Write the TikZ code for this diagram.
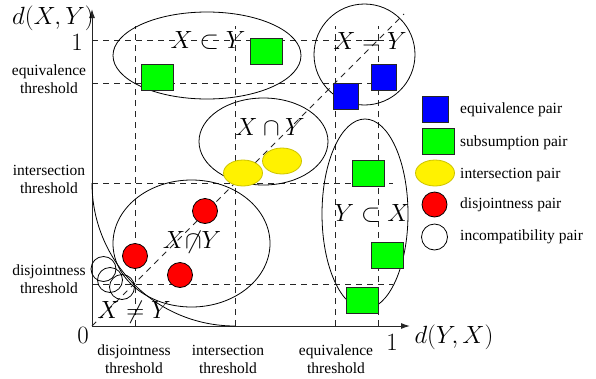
\documentclass[tikz,border=0pt]{standalone}
\usepackage[no-math]{fontspec}
\setmainfont{Liberation Serif}
\usetikzlibrary{shapes.geometric,arrows.meta}
\definecolor{yellowborder}{RGB}{205,195,0}
\begin{document}
\begin{tikzpicture}[x=1pt,y=-1pt,
  gridline/.style={dash pattern=on 6pt off 5pt, line width=0.8pt, black!85},
  region/.style={line width=0.8pt, black},
  axisline/.style={line width=1pt, black!85, -{Latex[length=9pt,width=6pt]}},
  lbl/.style={font=\fontsize{15.5}{18}\selectfont, align=center, inner sep=0},
  mlbl/.style={font=\fontsize{24.88}{28}\selectfont, inner sep=0},
  eqbox/.style={draw=black!85, fill=blue, minimum width=25pt, minimum height=26pt, inner sep=0, line width=0.8pt},
  subbox/.style={draw=black!85, fill=green, minimum width=32pt, minimum height=26pt, inner sep=0, line width=0.8pt},
  intell/.style={ellipse, draw=yellowborder, fill=yellow, minimum width=39pt, minimum height=26pt, inner sep=0, line width=0.8pt},
  disdot/.style={circle, draw=black, fill=red, minimum size=25pt, inner sep=0, line width=0.8pt},
  incdot/.style={circle, draw=black, minimum size=25pt, inner sep=0, line width=0.8pt},
]
\useasboundingbox (0,0) rectangle (596,378);

% grid
\foreach \x in {135,235,335,378} \draw[gridline] (\x,326) -- (\x,26);
\foreach \y in {284,183,83,40} \draw[gridline] (92,\y) -- (393,\y);
\coordinate (O) at (92,326);
\coordinate (D) at (404,14);
\draw[gridline] (O) -- (D);

% axes
\coordinate (ytop) at (92,9);
\coordinate (xend) at (410,326);
\draw[axisline] (O) -- (ytop);
\draw[axisline] (O) -- (xend);

% regions
\draw[region] (207,55.5) ellipse [x radius=94, y radius=43.5];
\draw[region] (263.5,141.5) ellipse [x radius=64.5, y radius=43.5];
\draw[region] (364.5,54.5) circle [radius=50.5];
\draw[region] (365,214) ellipse [x radius=43, y radius=95];
\draw[region] (191.5,243.5) ellipse [x radius=78.5, y radius=63.5];
\draw[region] (92,183) arc[start angle=180, end angle=90, radius=143];

% pairs
\node[subbox] (g1) at (157,77) {};
\node[subbox] (g2) at (266,51.5) {};
\node[subbox] (g3) at (368,173) {};
\node[subbox] (g4) at (387,255.5) {};
\node[subbox] (g5) at (362,300.5) {};
\node[eqbox] (b1) at (345.5,96) {};
\node[eqbox] (b2) at (384,77) {};
\node[intell] (y1) at (243,173) {};
\node[intell] (y2) at (282,161) {};
\node[disdot] (r1) at (205,211) {};
\node[disdot] (r2) at (135,256) {};
\node[disdot] (r3) at (180,275) {};
\node[incdot] (w1) at (103.5,269) {};
\node[incdot] (w2) at (110,280) {};
\node[incdot] (w3) at (122,287) {};

% region labels
\node[mlbl] (lsub) at (208,40) {$X\subset Y$};
\node[mlbl] (lint) at (270,127) {$X\cap Y$};
\node[mlbl] (leq) at (370,41) {$X=Y$};
\node[mlbl] (lsup) at (372,213) {$Y\subset X$};
\node[mlbl] (ldis) at (192,242) {$X{\not}{\cap}Y$};
\node[mlbl] (lneq) at (134,312) {$X\neq Y$};

% axis labels
\node[mlbl] (ay) at (53,18) {$d(X,Y)$};
\node[mlbl] (ax) at (454,337) {$d(Y,X)$};
\node[mlbl] (one1) at (77,42) {$1$};
\node[mlbl] (zero) at (83,335) {$0$};
\node[mlbl] (one2) at (392,342) {$1$};

\node[lbl] (ty1) at (49,79) {equivalence\\threshold};
\node[lbl] (ty2) at (49,179) {intersection\\threshold};
\node[lbl] (ty3) at (49,279) {disjointness\\threshold};
\node[lbl] (tx1) at (134,359) {disjointness\\threshold};
\node[lbl] (tx2) at (228,359) {intersection\\threshold};
\node[lbl] (tx3) at (336,359) {equivalence\\threshold};

% legend
\node[eqbox, minimum width=26pt] (kb) at (435,109.5) {};
\node[subbox] (kg) at (438,141) {};
\node[intell] (ky) at (435,173) {};
\node[disdot] (kr) at (434.5,204.5) {};
\node[incdot, minimum size=26pt] (kw) at (434.5,237) {};
\node[lbl, anchor=west] (tb) at (460,110) {equivalence pair};
\node[lbl, anchor=west] (tg) at (460,143) {subsumption pair};
\node[lbl, anchor=west] (ti) at (460,175) {intersection pair};
\node[lbl, anchor=west] (tr) at (460,205) {disjointness pair};
\node[lbl, anchor=west] (tw) at (460,237) {incompatibility pair};
\end{tikzpicture}
\end{document}
